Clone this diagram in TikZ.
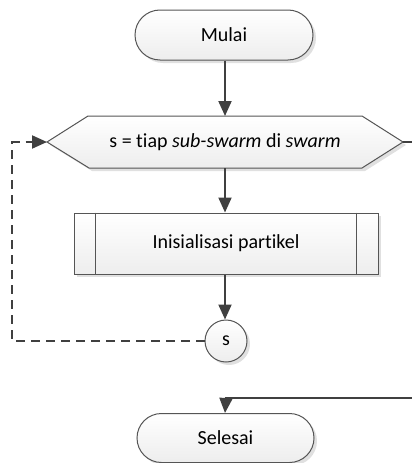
\documentclass[tikz,border=0pt]{standalone}
\usepackage{fontspec}
\setmainfont{Carlito}[Ligatures={NoCommon}]
\usetikzlibrary{arrows.meta,shapes.geometric,shadows,calc}
\definecolor{lineC}{HTML}{404040}
\definecolor{edgeC}{HTML}{555555}
\definecolor{shadC}{HTML}{D8D8D8}
\tikzset{
  shapebase/.style={draw=edgeC, line width=1pt, top color=white, bottom color=gray!14,
     drop shadow={shadow xshift=3pt, shadow yshift=-3pt, fill=shadC, opacity=0.8},
     font=\fontsize{20}{24}\selectfont, inner sep=0pt},
  conn/.style={draw=lineC, line width=2pt, -{Triangle[width=13pt,length=15pt]}},
  plainconn/.style={draw=lineC, line width=2pt},
  loopline/.style={draw=lineC, line width=2pt, dash pattern=on 9pt off 6pt}
}
\begin{document}
\begin{tikzpicture}[x=1pt,y=-1pt]
\useasboundingbox (0,0) rectangle (412,463);
\clip (0,0) rectangle (412,463);
% terminals as rounded rectangles
\node[shapebase, rectangle, rounded corners=25pt, minimum width=178pt, minimum height=50pt] (start) at (224,35) {Mulai};
\node[shapebase, rectangle, rounded corners=24.5pt, minimum width=177pt, minimum height=49pt] (stop) at (225.5,438) {Selesai};
% hexagon (loop limit)
\path[shapebase] (47,142) -- (88,116) -- (362,116) -- (403,142) -- (362,168) -- (89,168) -- cycle;
\coordinate (hexW) at (47,142);
\coordinate (hexE) at (403,142);
\coordinate (hexN) at (225,116);
\coordinate (hexS) at (225,168);
\node[font=\fontsize{20}{24}\selectfont, inner sep=0pt] (hexlabel) at (225,142.5) {s = tiap \textit{sub-swarm} di \textit{swarm}};
% predefined process
\node[shapebase, rectangle, minimum width=304pt, minimum height=61pt] (proc) at (226,243.5) {Inisialisasi partikel};
\draw[edgeC, line width=1pt] ($(proc.north west)+(22,0)$) -- ($(proc.south west)+(22,0)$);
\draw[edgeC, line width=1pt] ($(proc.north east)+(-22,0)$) -- ($(proc.south east)+(-22,0)$);
% connector circle
\node[shapebase, circle, minimum size=42pt] (conS) at (226,341) {s};
% connectors
\draw[conn] (start.south -| hexN) -- (hexN);
\draw[conn] (hexS) -- (proc.north -| hexS);
\draw[conn] (proc.south -| hexS) -- (conS.north -| hexS);
\coordinate (lp1) at (12,341);
\coordinate (lp2) at (12,142);
\draw[loopline] (conS.west) -- (lp1) -- (lp2) -- (35,142);
\draw[conn] (34,142) -- (hexW);
\coordinate (r1) at (430,142);
\coordinate (r2) at (430,398);
\draw[plainconn] (hexE) -- (r1) -- (r2) -- (225,398);
\draw[conn] (226,398) -- (stop.north -| 225,0);
\end{tikzpicture}
\end{document}
